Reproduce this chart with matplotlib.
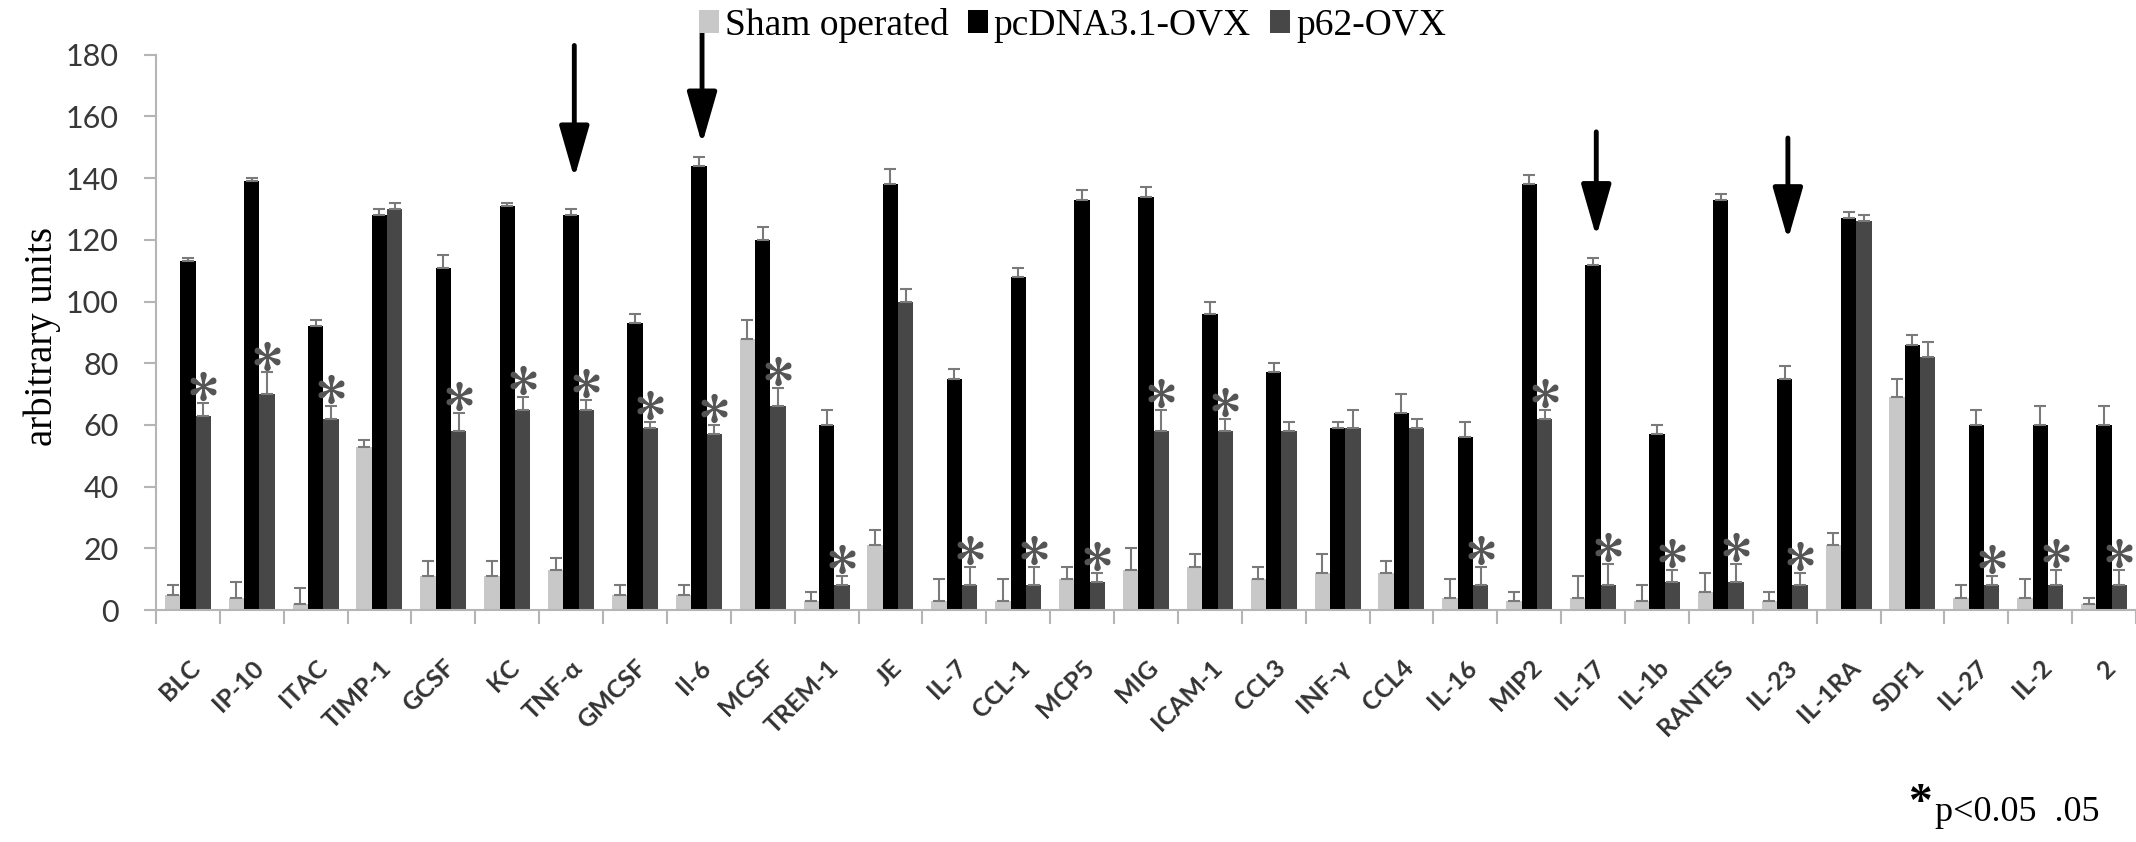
import numpy as np
import matplotlib
matplotlib.use('Agg')
import matplotlib.pyplot as plt

plt.rcParams['mathtext.fontset'] = 'stix'

# cytokine array, values
labels = ['BLC', 'IP-10', 'ITAC', 'TIMP-1', 'GCSF', 'KC', 'TNF-α', 'GMCSF', 'Il-6', 'MCSF',
          'TREM-1', 'JE', 'IL-7', 'CCL-1', 'MCP5', 'MIG', 'ICAM-1', 'CCL3', 'INF-γ', 'CCL4',
          'IL-16', 'MIP2', 'IL-17', 'IL-1b', 'RANTES', 'IL-23', 'IL-1RA', 'SDF1', 'IL-27', 'IL-2', '2']
sham = [5, 4, 2, 53, 11, 11, 13, 5, 5, 88, 3, 21, 3, 3, 10, 13, 14, 10, 12, 12,
        4, 3, 4, 3, 6, 3, 21, 69, 4, 4, 2]
sham_err = [3, 5, 5, 2, 5, 5, 4, 3, 3, 6, 3, 5, 7, 7, 4, 7, 4, 4, 6, 4,
            6, 3, 7, 5, 6, 3, 4, 6, 4, 6, 2]
pcdna = [113, 139, 92, 128, 111, 131, 128, 93, 144, 120, 60, 138, 75, 108, 133, 134, 96, 77, 59, 64,
         56, 138, 112, 57, 133, 75, 127, 86, 60, 60, 60]
pcdna_err = [1, 1, 2, 2, 4, 1, 2, 3, 3, 4, 5, 5, 3, 3, 3, 3, 4, 3, 2, 6,
             5, 3, 2, 3, 2, 4, 2, 3, 5, 6, 6]
p62 = [63, 70, 62, 130, 58, 65, 65, 59, 57, 66, 8, 100, 8, 8, 9, 58, 58, 58, 59, 59,
       8, 62, 8, 9, 9, 8, 126, 82, 8, 8, 8]
p62_err = [4, 7, 4, 2, 6, 4, 3, 2, 3, 6, 3, 4, 6, 6, 3, 7, 4, 3, 6, 3,
           6, 3, 7, 4, 6, 4, 2, 5, 3, 5, 5]
sig = [1, 1, 1, 0, 1, 1, 1, 1, 1, 1, 1, 0, 1, 1, 1, 1, 1, 0, 0, 0,
       1, 1, 1, 1, 1, 1, 0, 0, 1, 1, 1]

# arrows pointing at selected cytokines
arrow_cats = ['TNF-α', 'Il-6', 'IL-17', 'IL-23']
arrow_top = [183, 191, 155, 153]
arrow_tip = [140, 151, 121, 120]

x = np.arange(len(labels))
w = 0.24

fig = plt.figure(figsize=(21.36, 8.42), dpi=100)
ax = fig.add_axes([0.073, 0.2755, 0.927, 0.6595])

def up(e):
    return [np.zeros(len(e)), e]

ekw = dict(ecolor='#7a7a7a', capsize=4, elinewidth=1.5, capthick=1.5)
ax.bar(x - w, sham, w, yerr=up(sham_err), color='#c8c8c8', error_kw=ekw, label='Sham operated')
ax.bar(x, pcdna, w, yerr=up(pcdna_err), color='black', error_kw=ekw, label='pcDNA3.1-OVX')
ax.bar(x + w, p62, w, yerr=up(p62_err), color='#474747', error_kw=ekw, label='p62-OVX')

sel = np.array(sig, dtype=bool)
star_y = np.array(p62) + np.array(p62_err) + 5.5
ax.scatter(x[sel] + w, star_y[sel], marker='$*$', s=400, color='#555555', clip_on=False, zorder=5)

for c, t, b in zip(arrow_cats, arrow_top, arrow_tip):
    xi = labels.index(c) + 0.05
    ax.annotate('', xy=(xi, b), xytext=(xi, t), annotation_clip=False,
                arrowprops=dict(arrowstyle='-|>,head_length=0.8,head_width=0.23',
                                mutation_scale=40, lw=3.5, color='black',
                                shrinkA=0, shrinkB=0))

ax.set_xlim(-0.5, 30.5)
ax.set_ylim(0, 180)
ax.set_yticks(range(0, 181, 20))
ax.tick_params(axis='y', length=9, width=1.5, color='#b5b5b5', pad=18,
               labelsize=22, labelcolor='#383838')
for lab in ax.get_yticklabels():
    lab.set_family('Lato')

ax.set_xticks(x)
ax.set_xticklabels(labels, rotation=45, ha='right', rotation_mode='anchor',
                   family='Lato', fontweight='bold', fontsize=18, color='#333333')
ax.set_xticks(np.arange(-0.5, 31, 1), minor=True)
ax.tick_params(axis='x', which='major', length=0, pad=33)
ax.tick_params(axis='x', which='minor', length=10, width=1.5, color='#b5b5b5')

for s in ['top', 'right']:
    ax.spines[s].set_visible(False)
for s in ['left', 'bottom']:
    ax.spines[s].set_color('#b5b5b5')
    ax.spines[s].set_linewidth(1.5)

ax.legend(loc='center', bbox_to_anchor=(0.502, 0.97), bbox_transform=fig.transFigure,
          ncol=3, frameon=False, prop={'family': 'Liberation Serif', 'size': 27},
          handlelength=0.55, handleheight=0.55, handletextpad=0.15,
          columnspacing=0.5, borderpad=0)

fig.text(0.02, 0.6, 'arbitrary units', rotation=90, ha='center', va='center',
         family='Liberation Serif', fontsize=28)
fig.text(0.899, 0.045, '*', ha='center', va='center', family='Liberation Serif',
         fontsize=34, fontweight='bold')
fig.text(0.906, 0.025, 'p<0.05  .05', ha='left', va='baseline',
         family='Liberation Serif', fontsize=26)

fig.savefig('out.png', dpi=100)
